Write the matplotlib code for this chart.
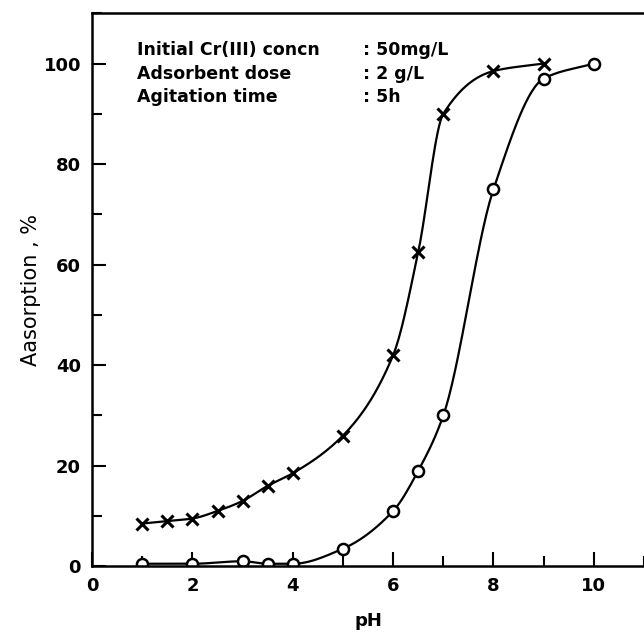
import numpy as np
import matplotlib
matplotlib.use("Agg")
import matplotlib.pyplot as plt
from matplotlib.ticker import MultipleLocator

# readings from the figure
ph_x = [1, 1.5, 2, 2.5, 3, 3.5, 4, 5, 6, 6.5, 7, 8, 9]
ads_x = [8.5, 9, 9.5, 11, 13, 16, 18.5, 26, 42, 62.5, 90, 98.5, 100]
ph_o = [1, 2, 3, 3.5, 4, 5, 6, 6.5, 7, 8, 9, 10]
ads_o = [0.5, 0.5, 1, 0.5, 0.5, 3.5, 11, 19, 30, 75, 97, 100]

info_keys = ["Initial Cr(III) concn", "Adsorbent dose", "Agitation time"]
info_vals = [": 50mg/L", ": 2 g/L", ": 5h"]


def smooth(x, y, n=300):
    # monotone cubic (Fritsch-Carlson) for a hand-drawn look
    x = np.asarray(x, float)
    y = np.asarray(y, float)
    h = np.diff(x)
    d = np.diff(y) / h
    m = np.zeros_like(y)
    m[0], m[-1] = d[0], d[-1]
    for i in range(1, len(y) - 1):
        if d[i - 1] * d[i] <= 0:
            m[i] = 0
        else:
            w1 = 2 * h[i] + h[i - 1]
            w2 = h[i] + 2 * h[i - 1]
            m[i] = (w1 + w2) / (w1 / d[i - 1] + w2 / d[i])
    xs = np.linspace(x[0], x[-1], n)
    idx = np.clip(np.searchsorted(x, xs) - 1, 0, len(x) - 2)
    t = (xs - x[idx]) / h[idx]
    h00 = 2 * t**3 - 3 * t**2 + 1
    h10 = t**3 - 2 * t**2 + t
    h01 = -2 * t**3 + 3 * t**2
    h11 = t**3 - t**2
    ys = (h00 * y[idx] + h10 * h[idx] * m[idx]
          + h01 * y[idx + 1] + h11 * h[idx] * m[idx + 1])
    return xs, ys


plt.rcParams["font.family"] = "DejaVu Sans"
fig = plt.figure(figsize=(6.44, 6.32), dpi=100)
ax = fig.add_axes([0.143, 0.104, 0.857, 0.875])

xs, ys = smooth(ph_x, ads_x)
ax.plot(xs, ys, "k-", linewidth=1.6)
ax.plot(ph_x, ads_x, "kx", markersize=9, markeredgewidth=2.2)

xs, ys = smooth(ph_o, ads_o)
ax.plot(xs, ys, "k-", linewidth=1.6)
ax.plot(ph_o, ads_o, "o", markersize=8, markerfacecolor="white",
        markeredgecolor="black", markeredgewidth=1.8)

ax.set_xlim(0, 11)
ax.set_ylim(0, 110)
ax.xaxis.set_minor_locator(MultipleLocator(1))
ax.yaxis.set_minor_locator(MultipleLocator(10))
ax.set_xticks([0, 2, 4, 6, 8, 10])
ax.set_yticks([0, 20, 40, 60, 80, 100])
ax.tick_params(which="major", direction="in", length=10, width=1.5,
               labelsize=13, pad=8)
ax.tick_params(which="minor", direction="in", length=7, width=1.5)
for lab in ax.get_xticklabels() + ax.get_yticklabels():
    lab.set_fontweight("bold")
ax.spines["right"].set_visible(False)
for s in ["left", "bottom", "top"]:
    ax.spines[s].set_linewidth(1.8)

ax.set_xlabel("pH", fontsize=13, fontweight="bold", labelpad=12)
ax.set_ylabel("Aasorption , %", fontsize=15, fontweight="medium",
              labelpad=2)

for i, (k, v) in enumerate(zip(info_keys, info_vals)):
    y = 0.933 - i * 0.0425
    ax.text(0.082, y, k, transform=ax.transAxes, fontsize=12.5,
            fontweight="bold", va="center")
    ax.text(0.49, y, v, transform=ax.transAxes, fontsize=12.5,
            fontweight="bold", va="center")

fig.savefig("out.png", dpi=100)
